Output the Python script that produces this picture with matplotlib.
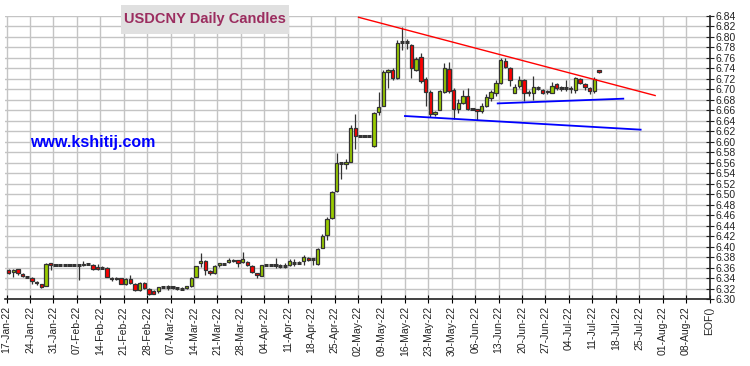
import numpy as np
import matplotlib
matplotlib.use("Agg")
from matplotlib import pyplot as plt
from matplotlib.patches import Rectangle

plt.rcParams['font.family'] = ['Liberation Sans', 'DejaVu Sans']

# daily candles, 17-Jan-22 .. 12-Jul-22 (5 slots per week, holidays flat)
opens = [6.356, 6.352, 6.357, 6.349, 6.342, 6.341, 6.333, 6.329, 6.326, 6.369,
         6.365, 6.365, 6.365, 6.365, 6.365, 6.365, 6.365, 6.368, 6.366, 6.361,
         6.360, 6.360, 6.341, 6.340, 6.340, 6.329, 6.338, 6.330, 6.317, 6.331,
         6.320, 6.316, 6.315, 6.323, 6.323, 6.323, 6.322, 6.321, 6.321, 6.325,
         6.343, 6.369, 6.373, 6.354, 6.350, 6.366, 6.368, 6.371, 6.375, 6.374,
         6.371, 6.371, 6.364, 6.350, 6.345, 6.366, 6.366, 6.365, 6.364, 6.364,
         6.365, 6.370, 6.370, 6.373, 6.379, 6.377, 6.367, 6.398, 6.422, 6.454,
         6.506, 6.560, 6.558, 6.562, 6.627, 6.611, 6.611, 6.611, 6.592, 6.656,
         6.669, 6.733, 6.736, 6.721, 6.789, 6.790, 6.785, 6.737, 6.762, 6.719,
         6.694, 6.653, 6.661, 6.694, 6.738, 6.699, 6.662, 6.674, 6.688, 6.663,
         6.662, 6.658, 6.669, 6.684, 6.693, 6.712, 6.754, 6.740, 6.693, 6.706,
         6.718, 6.695, 6.692, 6.702, 6.698, 6.696, 6.693, 6.709, 6.703, 6.702,
         6.703, 6.698, 6.719, 6.709, 6.702, 6.696, 6.737]
highs = [6.358, 6.357, 6.358, 6.350, 6.343, 6.342, 6.334, 6.330, 6.370, 6.370,
         6.365, 6.365, 6.365, 6.365, 6.365, 6.366, 6.372, 6.369, 6.368, 6.367,
         6.363, 6.361, 6.342, 6.342, 6.341, 6.340, 6.347, 6.331, 6.333, 6.332,
         6.321, 6.317, 6.324, 6.325, 6.327, 6.326, 6.323, 6.323, 6.326, 6.342,
         6.364, 6.388, 6.374, 6.356, 6.366, 6.370, 6.370, 6.378, 6.377, 6.375,
         6.390, 6.373, 6.366, 6.351, 6.366, 6.366, 6.366, 6.379, 6.368, 6.369,
         6.377, 6.377, 6.373, 6.384, 6.380, 6.378, 6.397, 6.425, 6.456, 6.506,
         6.579, 6.561, 6.567, 6.631, 6.652, 6.611, 6.611, 6.611, 6.657, 6.694,
         6.737, 6.738, 6.740, 6.794, 6.818, 6.795, 6.787, 6.762, 6.769, 6.724,
         6.699, 6.658, 6.699, 6.750, 6.751, 6.702, 6.682, 6.699, 6.703, 6.663,
         6.663, 6.674, 6.690, 6.699, 6.717, 6.759, 6.759, 6.742, 6.709, 6.725,
         6.719, 6.699, 6.725, 6.706, 6.701, 6.699, 6.713, 6.712, 6.706, 6.718,
         6.706, 6.723, 6.721, 6.712, 6.704, 6.724, 6.737]
lows = [6.348, 6.342, 6.346, 6.343, 6.341, 6.330, 6.328, 6.322, 6.325, 6.355,
        6.365, 6.365, 6.365, 6.365, 6.365, 6.336, 6.364, 6.367, 6.356, 6.356,
        6.357, 6.342, 6.334, 6.336, 6.329, 6.327, 6.330, 6.315, 6.316, 6.320,
        6.308, 6.310, 6.312, 6.321, 6.318, 6.320, 6.317, 6.318, 6.320, 6.324,
        6.342, 6.361, 6.346, 6.346, 6.349, 6.361, 6.365, 6.369, 6.371, 6.361,
        6.370, 6.363, 6.350, 6.341, 6.344, 6.366, 6.366, 6.360, 6.359, 6.359,
        6.364, 6.364, 6.368, 6.366, 6.372, 6.365, 6.366, 6.397, 6.412, 6.453,
        6.505, 6.529, 6.548, 6.561, 6.586, 6.611, 6.611, 6.611, 6.590, 6.650,
        6.668, 6.702, 6.718, 6.719, 6.775, 6.776, 6.721, 6.734, 6.712, 6.668,
        6.648, 6.649, 6.661, 6.692, 6.693, 6.643, 6.655, 6.671, 6.661, 6.663,
        6.641, 6.655, 6.667, 6.677, 6.687, 6.709, 6.740, 6.706, 6.692, 6.703,
        6.677, 6.687, 6.680, 6.698, 6.690, 6.690, 6.692, 6.699, 6.696, 6.696,
        6.693, 6.693, 6.709, 6.699, 6.690, 6.693, 6.731]
closes = [6.351, 6.356, 6.350, 6.344, 6.342, 6.334, 6.331, 6.323, 6.368, 6.365,
          6.365, 6.365, 6.365, 6.365, 6.365, 6.365, 6.368, 6.367, 6.358, 6.357,
          6.359, 6.343, 6.338, 6.338, 6.330, 6.338, 6.331, 6.317, 6.331, 6.322,
          6.311, 6.311, 6.323, 6.323, 6.322, 6.322, 6.321, 6.320, 6.325, 6.341,
          6.363, 6.373, 6.356, 6.350, 6.364, 6.369, 6.368, 6.375, 6.372, 6.370,
          6.376, 6.365, 6.352, 6.346, 6.365, 6.366, 6.366, 6.365, 6.364, 6.364,
          6.373, 6.370, 6.370, 6.381, 6.374, 6.377, 6.396, 6.420, 6.453, 6.504,
          6.560, 6.560, 6.562, 6.627, 6.611, 6.611, 6.611, 6.611, 6.655, 6.666,
          6.732, 6.737, 6.721, 6.788, 6.790, 6.789, 6.740, 6.757, 6.715, 6.694,
          6.652, 6.656, 6.696, 6.740, 6.696, 6.663, 6.674, 6.688, 6.663, 6.663,
          6.658, 6.669, 6.685, 6.694, 6.711, 6.756, 6.743, 6.718, 6.704, 6.718,
          6.693, 6.693, 6.704, 6.702, 6.692, 6.694, 6.706, 6.703, 6.703, 6.702,
          6.701, 6.721, 6.711, 6.704, 6.696, 6.719, 6.733]

week_labels = ['17-Jan-22', '24-Jan-22', '31-Jan-22', '07-Feb-22', '14-Feb-22',
               '21-Feb-22', '28-Feb-22', '07-Mar-22', '14-Mar-22', '21-Mar-22',
               '28-Mar-22', '04-Apr-22', '11-Apr-22', '18-Apr-22', '25-Apr-22',
               '02-May-22', '09-May-22', '16-May-22', '23-May-22', '30-May-22',
               '06-Jun-22', '13-Jun-22', '20-Jun-22', '27-Jun-22', '04-Jul-22',
               '11-Jul-22', '18-Jul-22', '25-Jul-22', '01-Aug-22', '08-Aug-22',
               'EOF()']

# trend lines: (day slot, price) end points
red_line = ([74.7, 138.0], [6.837, 6.688])
blue_upper = ([104.4, 131.2], [6.673, 6.682])
blue_lower = ([84.6, 134.9], [6.649, 6.623])

o = np.array(opens); h = np.array(highs); l = np.array(lows); c = np.array(closes)
x = np.arange(len(o))

fig = plt.figure(figsize=(7.5, 3.66), dpi=100)
ax = fig.add_axes([5/750, (366-299.3)/366, 704.5/750, 283.6/366])

ax.set_xlim(-0.75, 149.6)
ax.set_ylim(6.30, 6.84)

ticks = np.arange(len(week_labels))*5 - 0.4
ax.set_xticks(ticks)
ax.set_xticklabels(week_labels, rotation=90, fontsize=7.5, color='#222222')
ax.set_yticks(np.round(np.arange(6.30, 6.845, 0.02), 2))
ax.yaxis.set_major_formatter(matplotlib.ticker.FormatStrFormatter('%.2f'))
ax.yaxis.tick_right()
ax.tick_params(axis='y', direction='inout', length=6, width=0.8, labelsize=7.5,
               pad=1, colors='#222222')
ax.tick_params(axis='x', direction='inout', length=6, width=0.8, pad=2)
ax.grid(True, color='#c4c4c4', lw=1.0)
ax.set_axisbelow(True)
for s in ['top', 'left']:
    ax.spines[s].set_visible(False)
for s in ['bottom', 'right']:
    ax.spines[s].set_color('#222222')
    ax.spines[s].set_linewidth(1.2)

# wicks
ax.vlines(x, l, h, color='#333333', lw=0.9, zorder=2)
# bodies
flat = np.abs(c - o) < 0.0015
up = (c >= o) & ~flat
dn = (c < o) & ~flat
w = 0.72
ax.bar(x[up], (c - o)[up], bottom=o[up], width=w, color='#99cc00',
       edgecolor='#333333', linewidth=0.9, zorder=3)
ax.bar(x[dn], (o - c)[dn], bottom=c[dn], width=w, color='#ff0000',
       edgecolor='#333333', linewidth=0.9, zorder=3)
ax.hlines(((o + c)/2)[flat], x[flat] - w/2 - 0.1, x[flat] + w/2 + 0.1,
          color='#333333', lw=2.2, zorder=3)

ax.plot(*red_line, color='#ff0000', lw=1.0, zorder=4)
ax.plot(*blue_upper, color='#0000ff', lw=1.3, zorder=4)
ax.plot(*blue_lower, color='#0000ff', lw=1.3, zorder=4)

fig.patches.append(Rectangle((121/750, 1 - 34/366), 168/750, 29/366,
                             transform=fig.transFigure, facecolor='#e0e0e0',
                             edgecolor='none', zorder=5))
fig.text(205/750, 1 - 19.5/366, 'USDCNY Daily Candles', color='#9b2d5f',
         fontsize=10.5, weight='bold', ha='center', va='center', zorder=6)
fig.text(30/750, 1 - 143/366, 'www.kshitij.com', color='#0000ff',
         fontsize=11.5, weight='bold', ha='left', va='center', zorder=6)

plt.savefig('out.png', dpi=100)
